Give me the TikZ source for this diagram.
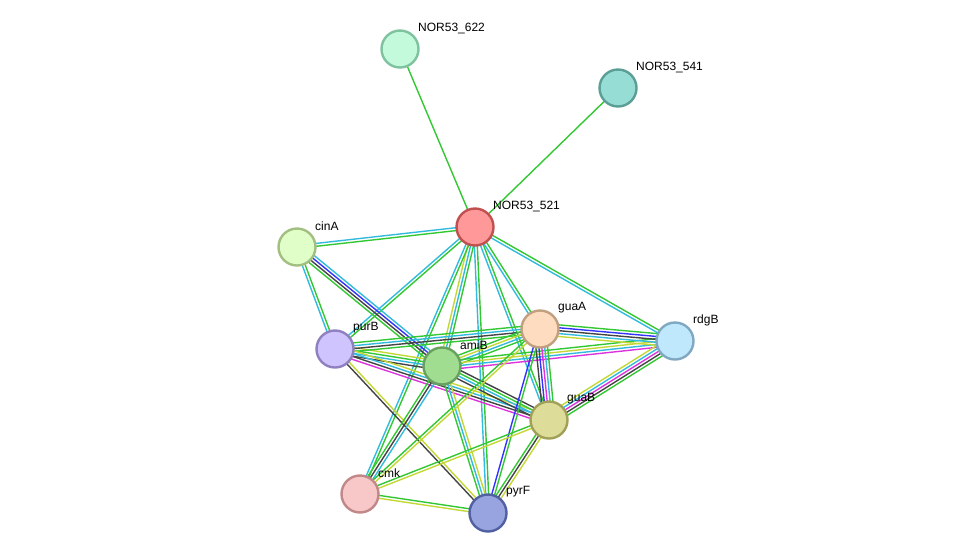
\documentclass[tikz,border=0pt]{standalone}
\usepackage{fontspec}
\setmainfont{Liberation Sans}
\usetikzlibrary{calc,backgrounds}
\definecolor{G}{HTML}{33C833}
\definecolor{C}{HTML}{33BBDD}
\definecolor{K}{HTML}{444444}
\definecolor{B}{HTML}{3333FF}
\definecolor{M}{HTML}{DD33DD}
\definecolor{Y}{HTML}{C4D835}
\tikzset{
  prot/.style={circle, minimum size=37pt, inner sep=0pt, line width=2.4pt},
  lab/.style={anchor=west, font=\fontsize{12}{14}\selectfont, inner sep=0pt},
  ln/.style={line width=1.4pt},
}
\newcommand\sedge[4]{%
  \foreach \c [count=\i] in {#4} {%
    \pgfmathsetmacro\o{(\i-(#3+1)/2)*2.9}%
    \draw[ln,\c] ($(#1.center)!\o pt!90:(#2.center)$) -- ($(#2.center)!\o pt!-90:(#1.center)$);
  }}
\begin{document}
\begin{tikzpicture}[x=1pt,y=-1pt]
\useasboundingbox (0,0) rectangle (976,558);
\node[prot, fill={rgb,255:red,195;green,250;blue,219}, draw={rgb,255:red,127;green,194;blue,159}] (p622) at (400,49) {};
\node[prot, fill={rgb,255:red,150;green,221;blue,213}, draw={rgb,255:red,90;green,158;blue,150}] (p541) at (618,88) {};
\node[prot, fill={rgb,255:red,255;green,153;blue,153}, draw={rgb,255:red,192;green,80;blue,80}] (p521) at (475,227) {};
\node[prot, fill={rgb,255:red,224;green,255;blue,200}, draw={rgb,255:red,162;green,190;blue,128}] (cinA) at (297,247) {};
\node[prot, fill={rgb,255:red,208;green,196;blue,255}, draw={rgb,255:red,144;green,128;blue,192}] (purB) at (335,349) {};
\node[prot, fill={rgb,255:red,160;green,221;blue,144}, draw={rgb,255:red,104;green,160;blue,96}] (amiB) at (442,366) {};
\node[prot, fill={rgb,255:red,253;green,220;blue,192}, draw={rgb,255:red,192;green,160;blue,128}] (guaA) at (540,329) {};
\node[prot, fill={rgb,255:red,192;green,232;blue,252}, draw={rgb,255:red,128;green,168;blue,192}] (rdgB) at (675,341) {};
\node[prot, fill={rgb,255:red,221;green,221;blue,153}, draw={rgb,255:red,160;green,160;blue,88}] (guaB) at (549,420) {};
\node[prot, fill={rgb,255:red,248;green,200;blue,200}, draw={rgb,255:red,192;green,136;blue,136}] (cmk) at (360,494) {};
\node[prot, fill={rgb,255:red,152;green,164;blue,224}, draw={rgb,255:red,80;green,96;blue,160}] (pyrF) at (488,513) {};
\node[lab] (l622) at (418,28) {NOR53\_622};
\node[lab] (l541) at (636,67) {NOR53\_541};
\node[lab] (l521) at (493,206) {NOR53\_521};
\node[lab] (lcinA) at (315,226) {cinA};
\node[lab] (lpurB) at (353,328) {purB};
\node[lab] (lamiB) at (460,345) {amiB};
\node[lab] (lguaA) at (558,308) {guaA};
\node[lab] (lrdgB) at (693,320) {rdgB};
\node[lab] (lguaB) at (567,399) {guaB};
\node[lab] (lcmk) at (378,473) {cmk};
\node[lab] (lpyrF) at (506,492) {pyrF};
\begin{pgfonlayer}{background}
\sedge{p521}{p622}{1}{G}
\sedge{p521}{p541}{1}{G}
\sedge{cinA}{p521}{2}{G,C}
\sedge{purB}{p521}{2}{G,C}
\sedge{amiB}{p521}{3}{G,C,Y}
\sedge{cmk}{p521}{2}{G,C}
\sedge{pyrF}{p521}{2}{G,C}
\sedge{guaB}{p521}{2}{G,C}
\sedge{guaA}{p521}{2}{G,C}
\sedge{rdgB}{p521}{2}{G,C}
\sedge{cinA}{purB}{2}{C,G}
\sedge{cinA}{amiB}{4}{G,K,B,C}
\sedge{purB}{amiB}{4}{K,C,G,Y}
\sedge{purB}{guaA}{4}{G,K,C,G}
\sedge{purB}{guaB}{4}{M,K,C,Y}
\sedge{purB}{pyrF}{2}{K,Y}
\sedge{amiB}{guaA}{4}{G,C,Y,G}
\sedge{amiB}{rdgB}{4}{M,C,Y,G}
\sedge{amiB}{guaB}{4}{K,C,G,K}
\sedge{amiB}{cmk}{3}{G,K,C}
\sedge{amiB}{pyrF}{3}{G,C,Y}
\sedge{guaA}{rdgB}{5}{Y,C,K,B,G}
\sedge{guaA}{guaB}{5}{K,B,M,C,G}
\sedge{guaA}{pyrF}{2}{B,G}
\sedge{guaA}{cmk}{2}{G,Y}
\sedge{rdgB}{guaB}{5}{Y,C,M,K,G}
\sedge{guaB}{cmk}{2}{G,Y}
\sedge{guaB}{pyrF}{3}{G,K,Y}
\sedge{cmk}{pyrF}{2}{Y,G}
\end{pgfonlayer}
\end{tikzpicture}
\end{document}
